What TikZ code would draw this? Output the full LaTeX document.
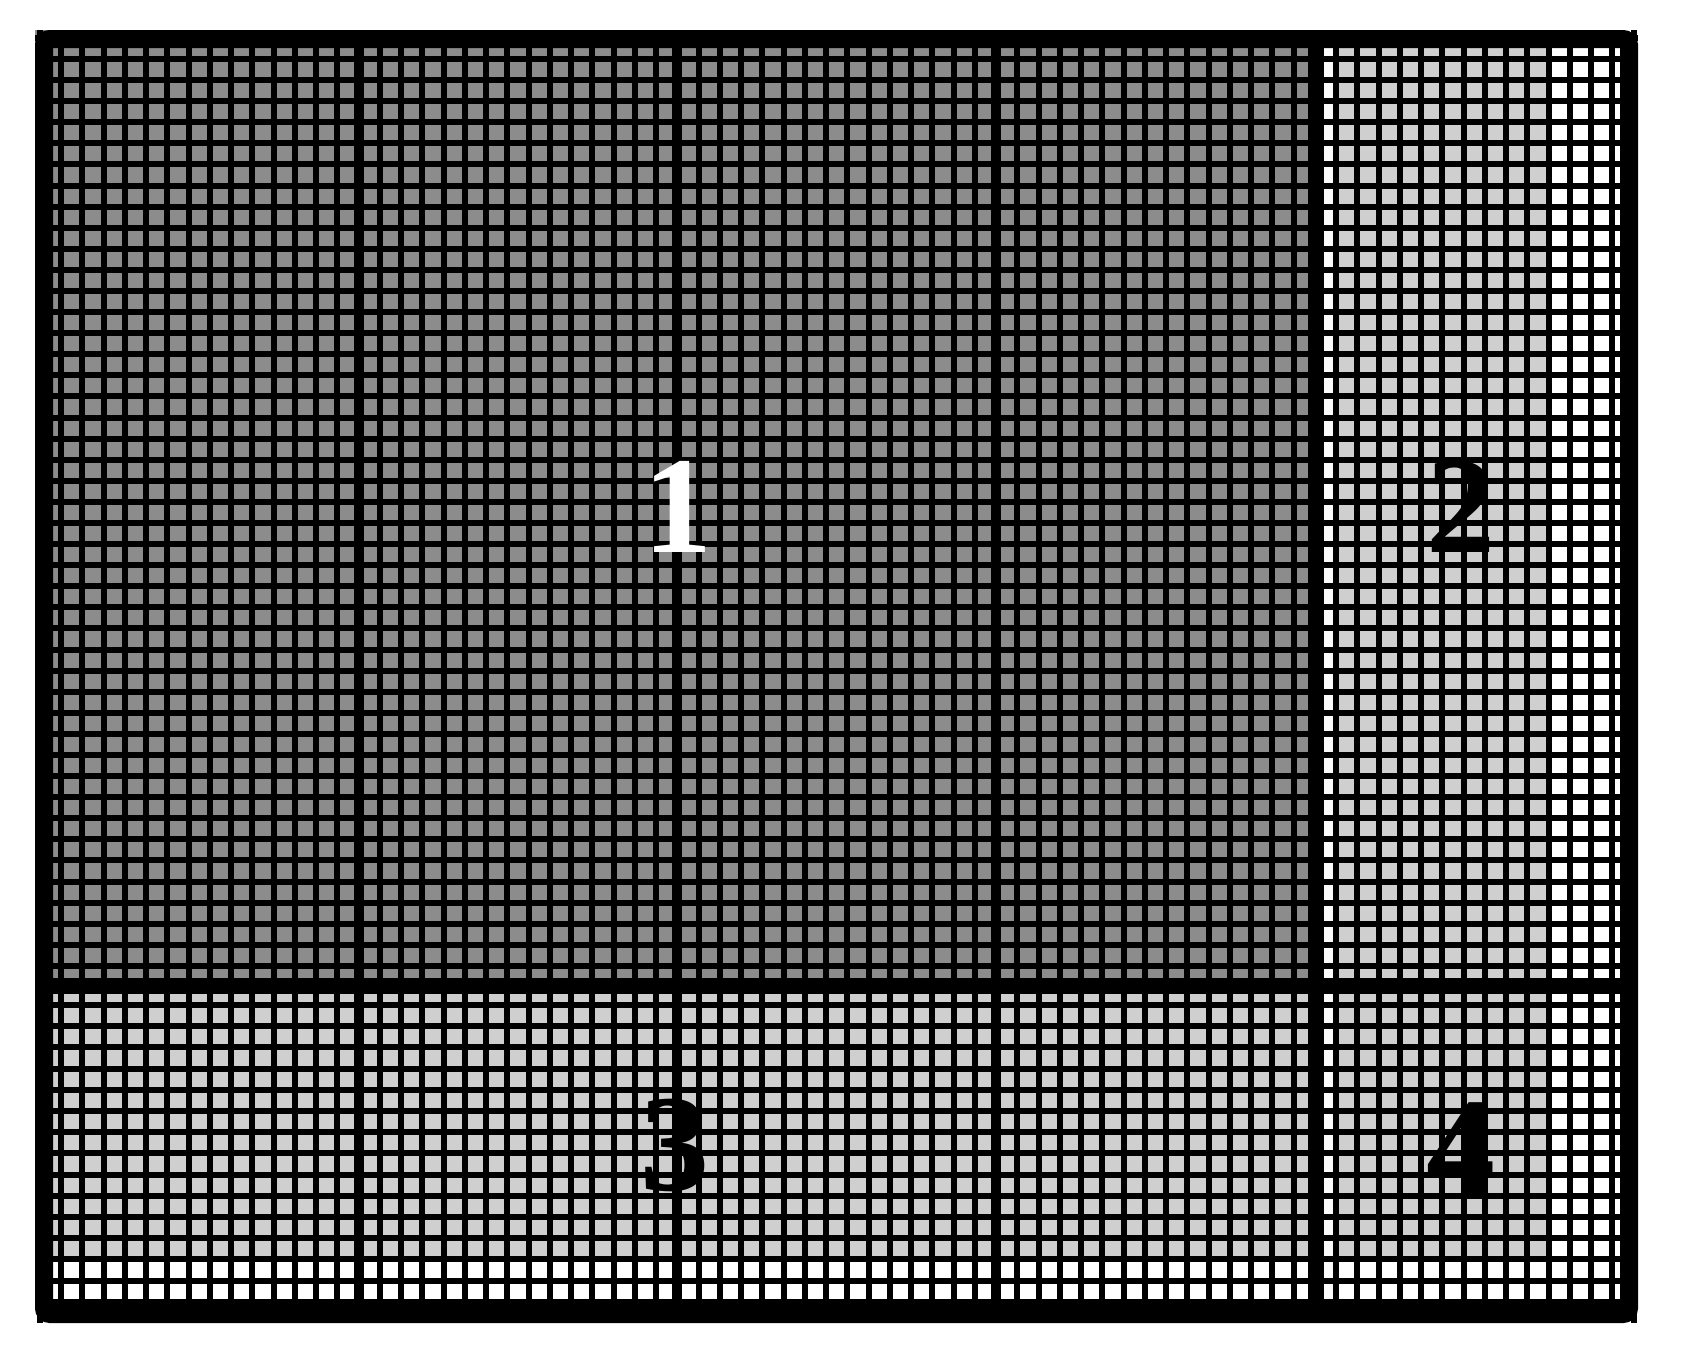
\documentclass[tikz,border=0pt]{standalone}
\usepackage{fontspec}
\setmainfont{Liberation Serif}
\definecolor{cellD}{HTML}{8C8C8C}
\definecolor{cellL}{HTML}{CFCFCF}
\begin{document}
\begin{tikzpicture}[x=1pt,y=-1pt,
  gridline/.style={line width=6pt,black},
  thindiv/.style={line width=10pt,black},
  thickdiv/.style={line width=16pt,black},
  frameline/.style={line width=18pt,black,rounded corners=6pt},
  digit/.style={font=\fontsize{138}{138}\selectfont\bfseries,inner sep=0pt,anchor=base}]
\useasboundingbox (0,0) rectangle (1682,1352);
\fill[white] (0,0) rectangle (1682,1352);
% cell fills
\fill[cellL] (35,30) rectangle (1638,1323);
\fill[cellD] (35,30) rectangle (1316,986);
\fill[white] (1548.5,30) rectangle (1638,1323);
\fill[white] (35,1259.4) rectangle (1638,1323);
\fill[white!92!cellL] (1316,30) rectangle (1336,1323);
% grid lines
\foreach \k in {-1,...,74}
  \draw[gridline] ({61+21.25*\k},30) -- ({61+21.25*\k},1323);
\foreach \k in {-1,...,44}
  \draw[gridline] (35,{59+21.09*\k}) -- (1638,{59+21.09*\k});
\foreach \j in {-1,...,14}
  \draw[gridline] (35,{1005+21.2*\j}) -- (1638,{1005+21.2*\j});
% dividers
\foreach \x in {358.5,677.25,996}
  \draw[thindiv] (\x,30) -- (\x,1323);
\draw[thickdiv] (1316,30) -- (1316,1323);
\draw[thickdiv] (35,986) -- (1638,986);
% frame
\draw[frameline] (44,39) rectangle (1629,1314);
% labels
\node[digit,text=white] (n1) at (678,552) {1};
\node[digit] (n2) at (1461,552) {2};
\node[digit] (n3) at (675,1190) {3};
\node[digit] (n4) at (1461,1193) {4};
\end{tikzpicture}
\end{document}
